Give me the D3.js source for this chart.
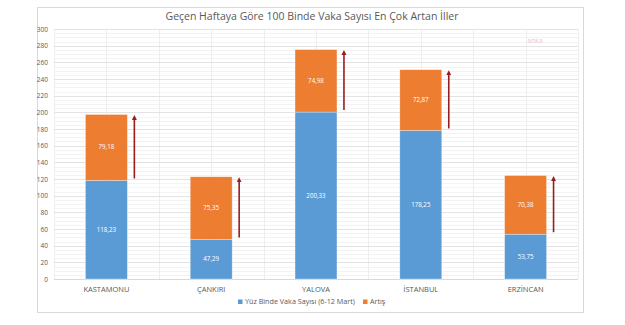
<!DOCTYPE html>
<html>
<head>
<meta charset="utf-8">
<script src="https://cdn.jsdelivr.net/npm/d3@7"></script>
<style>
  html, body { margin: 0; padding: 0; background: #fff; }
  svg { display: block; font-family: Calibri, Carlito, "Open Sans", "Liberation Sans", sans-serif; }
</style>
</head>
<body>
<svg id="chart" width="625" height="325"></svg>
<script>
// Cities, weekly cases per 100k (6-12 March) and the week-on-week increase
const cities = ["KASTAMONU", "ÇANKIRI", "YALOVA", "İSTANBUL", "ERZİNCAN"];
const baseValues = [118.23, 47.29, 200.33, 178.25, 53.75];
const increaseValues = [79.18, 75.35, 74.98, 72.87, 70.38];
const seriesNames = ["Yüz Binde Vaka Sayısı (6-12 Mart)", "Artış"];
const yTicks = [0, 20, 40, 60, 80, 100, 120, 140, 160, 180, 200, 220, 240, 260, 280, 300];
const titleText = "Geçen Haftaya Göre 100 Binde Vaka Sayısı En Çok Artan İller";

const colors = ["#5B9BD5", "#ED7D31"];
const svg = d3.select("#chart");

const plot = { left: 54, right: 578, top: 29, bottom: 279 };

// outer frame
svg.append("rect")
  .attr("x", 37.5).attr("y", 7.5).attr("width", 546).attr("height", 305)
  .attr("fill", "#fff").attr("stroke", "#d9d9d9").attr("stroke-width", 1);

const x = d3.scaleBand().domain(cities).range([plot.left, plot.right]).paddingInner(0.6).paddingOuter(0.3);
const xOuter = d3.scaleBand().domain(cities).range([plot.left, plot.right]).padding(0);
const y = d3.scaleLinear().domain([0, 300]).range([plot.bottom, plot.top]);

// minor horizontal grid
const minor = d3.range(0, 301, 5).filter(v => v % 20 !== 0);
svg.append("g").selectAll("line").data(minor).join("line")
  .attr("x1", plot.left).attr("x2", plot.right)
  .attr("y1", d => Math.round(y(d)) + 0.5).attr("y2", d => Math.round(y(d)) + 0.5)
  .attr("stroke", "#f3f3f3").attr("stroke-width", 1);

// vertical grid: band edges and centres
const vLines = [];
cities.forEach(c => { vLines.push(xOuter(c)); vLines.push(xOuter(c) + xOuter.bandwidth() / 2); });
vLines.push(plot.right);
svg.append("g").selectAll("line").data(vLines).join("line")
  .attr("x1", d => Math.round(d) + 0.5).attr("x2", d => Math.round(d) + 0.5)
  .attr("y1", plot.top).attr("y2", plot.bottom)
  .attr("stroke", "#eeeeee").attr("stroke-width", 1);

// major horizontal grid
svg.append("g").selectAll("line").data(yTicks).join("line")
  .attr("x1", plot.left).attr("x2", plot.right)
  .attr("y1", d => Math.round(y(d)) + 0.5).attr("y2", d => Math.round(y(d)) + 0.5)
  .attr("stroke", d => d === 0 ? "#d9d9d9" : "#e3e3e3").attr("stroke-width", 1);

// y axis labels
const yAxis = d3.axisLeft(y).tickValues(yTicks).tickSize(0).tickPadding(6);
const gy = svg.append("g").attr("transform", `translate(${plot.left},0)`).call(yAxis);
gy.select(".domain").remove();
gy.selectAll("text").attr("fill", "#595959").attr("font-size", 6.5).attr("font-family", "'Open Sans', sans-serif");

// x axis labels
const xAxis = d3.axisBottom(xOuter).tickSize(0).tickPadding(8);
const gx = svg.append("g").attr("transform", `translate(0,${plot.bottom})`).call(xAxis);
gx.select(".domain").remove();
gx.selectAll("text").attr("fill", "#595959").attr("font-size", 7.5).attr("font-family", "'Open Sans', sans-serif");

// stacked bars
const rows = cities.map((c, i) => ({ city: c, base: baseValues[i], inc: increaseValues[i] }));
const stack = d3.stack().keys(["base", "inc"])(rows);

stack.forEach((layer, li) => {
  const g = svg.append("g");
  g.selectAll("rect").data(layer).join("rect")
    .attr("x", d => x(d.data.city))
    .attr("width", x.bandwidth())
    .attr("y", d => y(d[1]))
    .attr("height", d => y(d[0]) - y(d[1]))
    .attr("fill", colors[li])
    .attr("stroke", "#ffffff").attr("stroke-opacity", 0.5).attr("stroke-width", 0.6);
  g.selectAll("text").data(layer).join("text")
    .attr("x", d => x(d.data.city) + x.bandwidth() / 2)
    .attr("y", d => (y(d[0]) + y(d[1])) / 2 + 2)
    .attr("text-anchor", "middle")
    .attr("fill", "#ffffff")
    .attr("font-size", 6.2)
    .attr("font-family", "'Open Sans', sans-serif")
    .text(d => (d[1] - d[0]).toFixed(2).replace(".", ","));
});

// increase arrows beside each bar
const defs = svg.append("defs");
defs.append("marker")
  .attr("id", "arrowHead").attr("viewBox", "0 0 10 10")
  .attr("refX", 5).attr("refY", 5)
  .attr("markerWidth", 3.2).attr("markerHeight", 3.2)
  .attr("orient", "auto")
  .append("path").attr("d", "M0,0 L10,5 L0,10 Z").attr("fill", "#9b1c1c");

svg.append("g").selectAll("line").data(rows).join("line")
  .attr("x1", d => x(d.city) + x.bandwidth() + 7)
  .attr("x2", d => x(d.city) + x.bandwidth() + 7)
  .attr("y1", d => y(d.base) - 2)
  .attr("y2", d => y(d.base + d.inc) + 3)
  .attr("stroke", "#9b1c1c").attr("stroke-width", 1.6)
  .attr("marker-end", "url(#arrowHead)");

// title
svg.append("text")
  .attr("x", 312).attr("y", 20)
  .attr("text-anchor", "middle")
  .attr("fill", "#595959")
  .attr("font-size", 10.5)
  .attr("font-family", "'Open Sans', sans-serif")
  .text(titleText);

// small watermark in the corner
svg.append("text")
  .attr("x", 535).attr("y", 43)
  .attr("text-anchor", "middle")
  .attr("fill", "#f0c4cc")
  .attr("font-size", 7)
  .attr("font-family", "'Open Sans', sans-serif")
  .text("anka");

// legend
const legendItems = [{ name: seriesNames[0], x: 238 }, { name: seriesNames[1], x: 363 }];
const lg = svg.append("g");
legendItems.forEach((it, i) => {
  lg.append("rect").attr("x", it.x).attr("y", 299.5).attr("width", 4.5).attr("height", 4.5).attr("fill", colors[i]);
  lg.append("text").attr("x", it.x + 7).attr("y", 304.3)
    .attr("fill", "#595959").attr("font-size", 7.2)
    .attr("font-family", "'Open Sans', sans-serif")
    .text(it.name);
});
</script>
</body>
</html>
